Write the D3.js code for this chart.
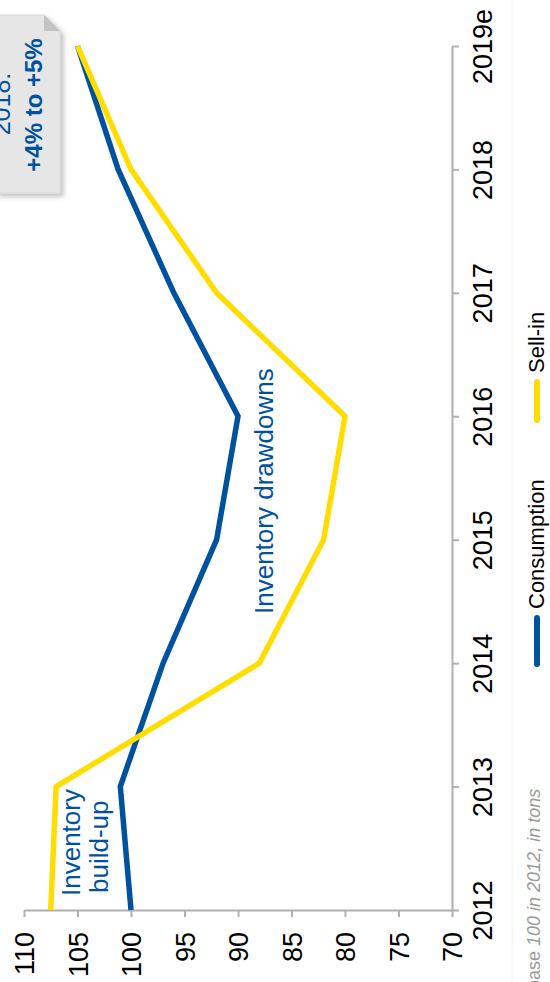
<!DOCTYPE html>
<html>
<head>
<meta charset="utf-8">
<script src="https://cdn.jsdelivr.net/npm/d3@7"></script>
<style>
  html, body { margin: 0; padding: 0; background: #fff; }
  svg { display: block; font-family: "Liberation Sans", Arial, sans-serif; }
</style>
</head>
<body>
<svg id="chart" width="550" height="982"></svg>
<script>
// ---- data ----
const years = ["2012", "2013", "2014", "2015", "2016", "2017", "2018", "2019e"];
const consumption = [100, 101, 97, 92, 90, 96, 101.2, 105];
const sellIn = [107.5, 107, 88, 82, 80, 92, 100, 105];
const valueTicks = [110, 105, 100, 95, 90, 85, 80, 75, 70];
const seriesNames = ["Consumption", "Sell-in"];
const seriesColors = ["#00529f", "#ffdd00"];

const svg = d3.select("#chart");
const blue = "#00529f";
const axisColor = "#b0b0b0";

// scales (chart is drawn rotated: values run horizontally, years vertically)
const v = d3.scaleLinear().domain([110, 70]).range([24, 452]);
const y = d3.scalePoint().domain(years).range([910, 46]);

// faint separator on the right
svg.append("line").attr("x1", 512).attr("x2", 512).attr("y1", 0).attr("y2", 982)
  .attr("stroke", "#ececec").attr("stroke-width", 1);

// value axis
const gv = svg.append("g").attr("transform", "translate(0,910)")
  .call(d3.axisBottom(v).tickValues(valueTicks).tickSize(7).tickSizeOuter(0).tickFormat(d3.format("d")));
gv.select(".domain").attr("stroke", axisColor).attr("stroke-width", 2);
gv.selectAll(".tick line").attr("stroke", axisColor).attr("stroke-width", 2);
gv.selectAll(".tick text")
  .attr("transform", "rotate(-90)")
  .attr("x", -22).attr("y", 0).attr("dy", "0.36em")
  .attr("text-anchor", "end")
  .attr("fill", "#000")
  .style("font-size", "27px")
  .style("font-family", "'Liberation Sans', Arial, sans-serif");

// year axis
const gy = svg.append("g").attr("transform", "translate(452,0)")
  .call(d3.axisRight(y).tickSize(7).tickSizeOuter(0));
gy.select(".domain").attr("stroke", axisColor).attr("stroke-width", 2);
gy.selectAll(".tick line").attr("stroke", axisColor).attr("stroke-width", 2);
gy.selectAll(".tick text")
  .attr("transform", "rotate(-90)")
  .attr("x", 0).attr("y", 40).attr("dy", 0)
  .attr("text-anchor", "middle")
  .attr("fill", "#000")
  .style("font-size", "27px")
  .style("font-family", "'Liberation Sans', Arial, sans-serif");

// lines
const line = d3.line().x(d => v(d.value)).y(d => y(d.year));
[consumption, sellIn].forEach((vals, i) => {
  const pts = years.map((yr, j) => ({ year: yr, value: vals[j] }));
  svg.append("path").datum(pts)
    .attr("d", line)
    .attr("fill", "none")
    .attr("stroke", seriesColors[i])
    .attr("stroke-width", 5.5)
    .attr("stroke-linejoin", "miter")
    .attr("stroke-miterlimit", 4);
});

// annotations
function rotText(x, yy, txt, opts = {}) {
  return svg.append("text")
    .attr("transform", `translate(${x},${yy}) rotate(-90)`)
    .attr("text-anchor", opts.anchor || "start")
    .attr("fill", opts.fill || blue)
    .style("font-size", (opts.size || 26) + "px")
    .style("font-weight", opts.weight || "normal")
    .text(txt);
}
rotText(80, 896, "Inventory");
rotText(108, 893, "build-up");
rotText(273, 614, "Inventory drawdowns");

// legend
const legendItems = [
  { name: seriesNames[0], color: seriesColors[0], y0: 667, y1: 615 },
  { name: seriesNames[1], color: seriesColors[1], y0: 423, y1: 379 }
];
legendItems.forEach(it => {
  svg.append("line").attr("x1", 537).attr("x2", 537).attr("y1", it.y0 - 3).attr("y2", it.y1 + 3)
    .attr("stroke", it.color).attr("stroke-width", 6).attr("stroke-linecap", "round");
  rotText(544, it.y1 - 6, it.name, { fill: "#000", size: 22 });
});

// footnote
const fn = svg.append("text")
  .attr("transform", "translate(540,990) rotate(-90)")
  .attr("fill", "#9a9a9a")
  .style("font-size", "18px");
fn.append("tspan").text("base ");
fn.append("tspan").style("font-style", "italic").text("100 in 2012, in tons");

// callout box
const defs = svg.append("defs");
const f = defs.append("filter").attr("id", "shadow").attr("x", "-20%").attr("y", "-20%").attr("width", "150%").attr("height", "150%");
f.append("feDropShadow").attr("dx", 3).attr("dy", 3).attr("stdDeviation", 2.5).attr("flood-color", "#000").attr("flood-opacity", 0.25);

svg.append("path")
  .attr("d", "M-4,15 L44,15 L60,31 L60,193 L-4,193 Z")
  .attr("fill", "#e6e6e6")
  .attr("stroke", "#d8d8d8")
  .attr("stroke-width", 1)
  .attr("filter", "url(#shadow)");
svg.append("path")
  .attr("d", "M44,15 L44,31 L60,31 Z")
  .attr("fill", "#c4c4c4");

rotText(10, 104, "2018:", { anchor: "middle", size: 25 });
rotText(42, 105, "+4% to +5%", { anchor: "middle", size: 24, weight: "bold" });
</script>
</body>
</html>
